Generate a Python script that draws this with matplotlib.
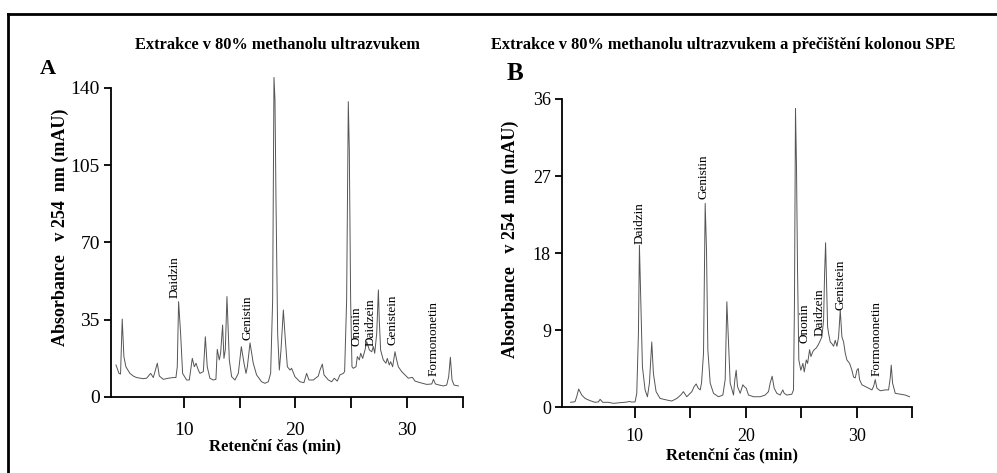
import matplotlib
matplotlib.use("Agg")
import matplotlib.pyplot as plt
from matplotlib.lines import Line2D

plt.rcParams['font.family'] = ['Liberation Serif', 'DejaVu Serif']

# --- panel A: extraction in 80% methanol, ultrasound ---
time_a = [3.90, 4.17, 4.31, 4.46, 4.61, 4.79, 5.15, 5.45, 5.75, 6.35, 6.65, 7.01, 7.25,
          7.61, 7.79, 8.14, 8.59, 9.04, 9.28, 9.40, 9.52, 9.70, 9.88, 10.24, 10.48, 10.75,
          10.93, 11.08, 11.29, 11.44, 11.74, 11.92, 12.09, 12.33, 12.63, 12.87, 12.99, 13.17,
          13.29, 13.47, 13.59, 13.71, 13.86, 14.07, 14.28, 14.58, 14.88, 15.15, 15.39, 15.57,
          15.69, 15.93, 16.22, 16.52, 16.97, 17.27, 17.57, 17.78, 17.96, 18.08, 18.17, 18.26,
          18.41, 18.56, 18.71, 18.92, 19.10, 19.28, 19.52, 19.66, 19.96, 20.41, 20.77, 21.01,
          21.22, 21.61, 22.06, 22.21, 22.42, 22.57, 22.96, 23.26, 23.49, 23.76, 24.00, 24.30,
          24.42, 24.60, 24.75, 24.84, 24.96, 25.08, 25.20, 25.44, 25.56, 25.74, 25.86, 26.04,
          26.25, 26.40, 26.64, 26.85, 27.00, 27.12, 27.30, 27.45, 27.53, 27.65, 27.89, 28.13,
          28.25, 28.43, 28.55, 28.73, 28.94, 29.09, 29.24, 29.54, 29.84, 30.14, 30.50, 30.74,
          31.19, 31.79, 32.24, 32.39, 32.57, 32.92, 33.28, 33.58, 33.76, 33.91, 34.06, 34.24,
          34.63]
abs_a = [14.5, 10.7, 10.4, 35.3, 18.3, 13.7, 10.7, 9.5, 8.8, 8.3, 8.5, 10.7, 8.8,
         15.3, 9.5, 8.0, 8.5, 8.8, 8.8, 13.7, 43.2, 28.8, 10.7, 7.7, 7.7, 17.5,
         13.7, 15.3, 12.2, 10.7, 11.5, 27.3, 13.7, 8.5, 7.7, 8.0, 21.6, 16.8,
         19.8, 32.6, 17.5, 21.3, 45.5, 16.8, 9.2, 7.7, 10.7, 22.8, 15.3, 10.7,
         13.7, 24.5, 15.3, 10.0, 6.9, 6.2, 6.9, 10.7, 43.9, 144.8, 134.5, 89.2,
         28.8, 12.2, 21.3, 39.4, 25.8, 13.7, 12.2, 13.0, 9.2, 6.9, 6.5, 10.7,
         7.7, 7.7, 9.5, 12.2, 14.9, 10.0, 7.7, 6.9, 8.5, 7.2, 10.0, 10.7,
         11.5, 43.9, 133.8, 111.9, 43.9, 13.7, 13.0, 13.7, 18.3, 16.8, 19.8, 17.5,
         21.3, 25.1, 21.3, 20.5, 22.8, 19.8, 28.8, 48.5, 34.9, 21.3, 16.8, 15.3,
         17.5, 14.5, 16.0, 13.7, 20.5, 16.8, 13.7, 11.5, 10.0, 8.5, 8.9, 7.2,
         6.5, 5.7, 5.9, 8.0, 5.9, 5.4, 5.0, 5.4, 9.2, 18.0, 7.7, 5.4,
         5.0]

# --- panel B: same extraction + SPE clean-up ---
time_b = [4.23, 4.62, 4.77, 4.95, 5.23, 5.53, 5.98, 6.43, 6.73, 6.88, 7.12, 7.63, 8.08,
          8.68, 9.28, 9.52, 9.73, 10.03, 10.18, 10.33, 10.42, 10.54, 10.69, 10.93, 11.14,
          11.32, 11.53, 11.68, 11.92, 12.28, 12.88, 13.33, 13.78, 14.14, 14.38, 14.68, 15.14,
          15.35, 15.53, 15.71, 15.89, 16.01, 16.19, 16.34, 16.46, 16.58, 16.79, 17.09, 17.54,
          17.93, 18.14, 18.29, 18.41, 18.59, 18.89, 19.01, 19.13, 19.25, 19.49, 19.73, 19.85,
          20.03, 20.24, 20.69, 21.29, 21.74, 22.04, 22.19, 22.37, 22.55, 22.79, 23.09, 23.33,
          23.45, 23.69, 24.14, 24.29, 24.38, 24.47, 24.56, 24.65, 24.77, 24.95, 25.14, 25.26,
          25.44, 25.56, 25.74, 25.86, 26.04, 26.16, 26.34, 26.49, 26.64, 26.85, 27.00, 27.09,
          27.18, 27.27, 27.36, 27.45, 27.60, 27.75, 27.90, 28.05, 28.20, 28.35, 28.50, 28.65,
          28.80, 28.95, 29.10, 29.34, 29.55, 29.70, 29.85, 30.00, 30.12, 30.24, 30.45, 30.75,
          31.05, 31.35, 31.50, 31.65, 31.80, 32.10, 32.55, 32.85, 33.00, 33.09, 33.21, 33.45,
          33.90, 34.35, 34.74]
abs_b = [0.55, 0.62, 1.2, 2.1, 1.4, 1.0, 0.74, 0.55, 0.6, 0.9, 0.55, 0.55, 0.43,
         0.5, 0.58, 0.65, 0.58, 0.6, 1.6, 8.6, 18.9, 12.5, 4.7, 2.0, 1.2,
         2.8, 7.6, 3.9, 1.8, 1.0, 0.82, 0.7, 1.0, 1.4, 1.8, 1.2, 1.8,
         2.4, 2.7, 2.2, 2.0, 2.8, 6.3, 23.8, 18.3, 6.7, 2.8, 1.6, 1.2,
         1.4, 3.2, 12.3, 8.6, 2.8, 1.4, 3.2, 4.3, 2.4, 1.6, 2.6, 2.4,
         2.2, 1.4, 1.2, 1.2, 1.4, 1.8, 2.8, 3.6, 2.2, 1.6, 1.4, 2.0,
         1.6, 1.4, 1.5, 2.0, 12.5, 34.9, 28.1, 16.4, 5.5, 4.3, 5.1, 4.1,
         5.5, 5.1, 6.7, 5.9, 6.5, 6.7, 6.9, 7.2, 7.6, 8.2, 10.2, 15.6,
         19.2, 14.5, 9.4, 8.6, 7.6, 7.4, 7.1, 7.8, 7.1, 8.2, 11.3, 8.2,
         7.6, 6.3, 5.5, 5.1, 4.3, 3.5, 3.4, 4.3, 4.5, 3.2, 2.6, 2.4,
         2.2, 2.0, 2.4, 3.2, 2.2, 1.9, 2.0, 2.0, 3.4, 4.9, 2.8, 1.6,
         1.5, 1.4, 1.2]

peak_names = ['Daidzin', 'Genistin', 'Ononin', 'Daidzein', 'Genistein', 'Formononetin']
label_time_a = [9.19, 15.74, 25.53, 26.79, 28.76, 32.44]
label_abs_a = [44.8, 25.8, 23.1, 23.1, 23.6, 9.5]
label_time_b = [10.45, 16.2, 25.3, 26.6, 28.5, 31.8]
label_abs_b = [19.05, 24.3, 7.5, 8.3, 11.3, 3.6]

yticks_a = [0, 35, 70, 105, 140]
yticks_b = [0, 9, 18, 27, 36]
xticks = [10, 15, 20, 25, 30, 35]
xticklabels = ['10', '', '20', '', '30', '']

fig = plt.figure(figsize=(9.97, 4.73), dpi=100)
axA = fig.add_axes([0.1113, 0.1607, 0.3526, 0.6533])
axB = fig.add_axes([0.5637, 0.1395, 0.3515, 0.6512])


def style(ax, t, a, yt, ymax, names, lt, la, tick_fs, xpad):
    ax.plot(t, a, color='#555555', lw=0.7, clip_on=False)
    ax.set_xlim(3.45, 35.0)
    ax.set_ylim(0, ymax)
    ax.set_xticks(xticks)
    ax.set_xticklabels(xticklabels)
    ax.set_yticks(yt)
    for s in ['top', 'right']:
        ax.spines[s].set_visible(False)
    for s in ['left', 'bottom']:
        ax.spines[s].set_linewidth(1.3)
    ax.tick_params(axis='x', length=8, width=1.3, pad=xpad, labelsize=tick_fs)
    ax.tick_params(axis='y', length=5, width=1.3, pad=3, labelsize=tick_fs)
    for n, x, y in zip(names, lt, la):
        ax.text(x, y, n, rotation=90, ha='center', va='bottom', fontsize=9.5)


style(axA, time_a, abs_a, yticks_a, 140, peak_names, label_time_a, label_abs_a, 14, 10)
style(axB, time_b, abs_b, yticks_b, 36, peak_names, label_time_b, label_abs_b, 13, 7)

fig.text(277 / 997, 1 - 45 / 473, 'Extrakce v 80% methanolu ultrazvukem',
         ha='center', va='center', fontsize=11.8, fontweight='bold')
fig.text(723 / 997, 1 - 45 / 473, 'Extrakce v 80% methanolu ultrazvukem a přečištění kolonou SPE',
         ha='center', va='center', fontsize=11.8, fontweight='bold')
fig.text(48 / 997, 1 - 69 / 473, 'A', ha='center', va='center', fontsize=16, fontweight='bold')
fig.text(515 / 997, 1 - 73 / 473, 'B', ha='center', va='center', fontsize=18, fontweight='bold')

ylab = 'Absorbance   v 254  nm (mAU)'
fig.text(60 / 997, 1 - 227 / 473, ylab, rotation=90, ha='center', va='center',
         fontsize=13, fontweight='bold')
fig.text(510 / 997, 1 - 239 / 473, ylab, rotation=90, ha='center', va='center',
         fontsize=13, fontweight='bold')
fig.text(275 / 997, 1 - 446 / 473, 'Retenční čas (min)', ha='center', va='center',
         fontsize=12, fontweight='bold')
fig.text(732 / 997, 1 - 455 / 473, 'Retenční čas (min)', ha='center', va='center',
         fontsize=12, fontweight='bold')

# outer frame (top and left edges only visible)
fig.add_artist(Line2D([8 / 997, 1], [1 - 14 / 473, 1 - 14 / 473], color='black', lw=2))
fig.add_artist(Line2D([8 / 997, 8 / 997], [0, 1 - 14 / 473], color='black', lw=2))

fig.savefig('out.png', dpi=100)
